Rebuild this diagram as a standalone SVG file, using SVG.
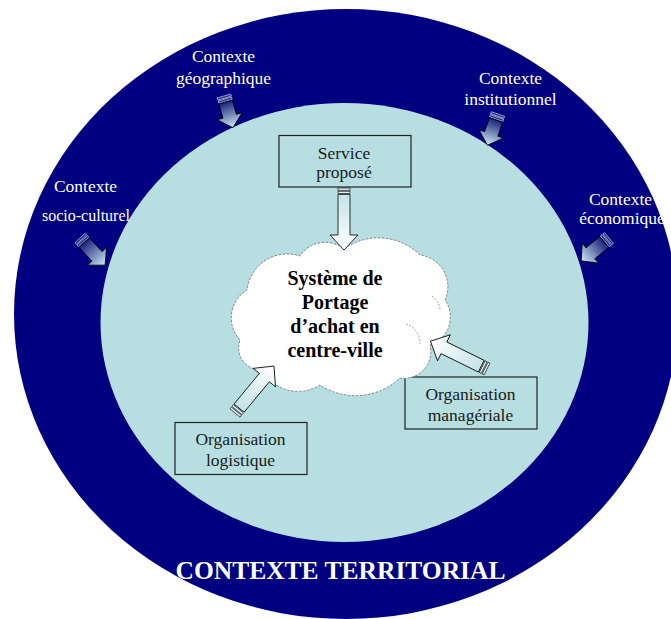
<svg xmlns="http://www.w3.org/2000/svg" width="671" height="619" viewBox="0 0 671 619">
<defs>
<style>
.lbl{font-family:"Liberation Serif","Times New Roman",serif;font-size:17.5px;fill:#ffffff;text-anchor:middle}
.box{fill:none;stroke:#222;stroke-width:1.2}
.btxt{font-family:"Liberation Serif","Times New Roman",serif;font-size:17.5px;fill:#1a1a1a;text-anchor:middle}
.ctxt{font-family:"Liberation Serif","Times New Roman",serif;font-size:20px;font-weight:bold;fill:#000;text-anchor:middle}
.title{font-family:"Liberation Serif","Times New Roman",serif;font-size:25.5px;font-weight:bold;fill:#ffffff;text-anchor:middle}
.ca{fill:url(#gCtx);stroke:#000;stroke-width:0.8}
.cb{fill:#27318a;stroke:#d8dcee;stroke-width:0.6}
.ia{fill:url(#gIn);stroke:#000;stroke-width:0.8}
.ib{fill:#e4f2f4;stroke:#000;stroke-width:0.6}
</style>
<linearGradient id="gCtx" x1="0" y1="0" x2="1" y2="0">
<stop offset="0" stop-color="#1c2580"/>
<stop offset="1" stop-color="#cdeaef"/>
</linearGradient>
<linearGradient id="gIn" x1="0" y1="0" x2="1" y2="0">
<stop offset="0" stop-color="#c4e3e8"/>
<stop offset="1" stop-color="#ffffff"/>
</linearGradient>
</defs>

<g id="territorial">
<ellipse cx="346" cy="314" rx="332" ry="305" fill="#000080"/>
<text class="title" x="340.5" y="579">CONTEXTE TERRITORIAL</text>
</g>
<g id="inner">
<ellipse cx="344.5" cy="322.5" rx="244" ry="219.5" fill="#b7dfe2"/>
</g>

<g id="ctx-geo"><text class="lbl" x="223.5" y="62">Contexte</text><text class="lbl" x="223.5" y="83.5">géographique</text></g>
<g id="ctx-inst"><text class="lbl" x="510.5" y="84">Contexte</text><text class="lbl" x="510.5" y="104.5">institutionnel</text></g>
<g id="ctx-socio"><text class="lbl" x="85.5" y="191.5">Contexte</text><text class="lbl" x="86" y="220.5" style="font-size:16px">socio-culturel</text></g>
<g id="ctx-eco"><text class="lbl" x="620.5" y="204.5">Contexte</text><text class="lbl" x="622" y="223.5">économique</text></g>

<g id="service"><rect class="box" x="279" y="135.5" width="132" height="51.5"/><text class="btxt" x="344" y="158.5">Service</text><text class="btxt" x="344" y="178">proposé</text></g>
<g id="logistique"><rect class="box" x="175" y="422.5" width="132" height="52"/><text class="btxt" x="240.5" y="445">Organisation</text><text class="btxt" x="240.5" y="465.5">logistique</text></g>
<g id="manageriale"><rect class="box" x="405" y="377" width="132" height="52"/><text class="btxt" x="470.5" y="400">Organisation</text><text class="btxt" x="470.5" y="420.5">managériale</text></g>

<g id="systeme">
<path d="M240,340 A32.5,32.5 0 0 1 247,290 A40.6,40.6 0 0 1 300,256 A29.9,29.9 0 0 1 344,249 A58.9,58.9 0 0 1 420,255 A32,32 0 0 1 445,300 A29.4,29.4 0 0 1 430,345 A26.7,26.7 0 0 1 400,378 A64.6,64.6 0 0 1 320,385 A41,41 0 0 1 262,370 A22.3,22.3 0 0 1 240,340 Z" fill="#ffffff" stroke="#777" stroke-width="0.9" stroke-dasharray="2.5 1.5"/>
<path d="M406,324 A20,20 0 0 1 420,344 M432,296 A18,18 0 0 1 440,310" fill="none" stroke="#888" stroke-width="0.8" stroke-dasharray="2 1.5"/>
<text class="ctxt" x="335" y="285">Système de</text>
<text class="ctxt" x="335" y="309">Portage</text>
<text class="ctxt" x="335" y="333">d’achat en</text>
<text class="ctxt" x="335" y="357">centre-ville</text>
</g>

<g id="connectors">
<g transform="translate(224,96) rotate(74.3)"><rect class="cb" x="0" y="-7" width="2.2" height="14"/><rect class="cb" x="3.2" y="-7" width="2.2" height="14"/><polygon class="ca" points="6.4,-7 21,-7 21,-13 33,0 21,13 21,7 6.4,7"/></g>
<g transform="translate(498,114) rotate(108.7)"><rect class="cb" x="0" y="-7" width="2.2" height="14"/><rect class="cb" x="3.2" y="-7" width="2.2" height="14"/><polygon class="ca" points="6.4,-7 21,-7 21,-13 33,0 21,13 21,7 6.4,7"/></g>
<g transform="translate(80,238) rotate(47.2)"><rect class="cb" x="0" y="-7" width="2.2" height="14"/><rect class="cb" x="3.2" y="-7" width="2.2" height="14"/><polygon class="ca" points="6.4,-7 25,-7 25,-13 37,0 25,13 25,7 6.4,7"/></g>
<g transform="translate(609,238) rotate(140.6)"><rect class="cb" x="0" y="-7" width="2.2" height="14"/><rect class="cb" x="3.2" y="-7" width="2.2" height="14"/><polygon class="ca" points="6.4,-7 24,-7 24,-13 36,0 24,13 24,7 6.4,7"/></g>
<g transform="translate(344,188) rotate(90)"><rect class="ib" x="0" y="-6" width="2.2" height="12"/><rect class="ib" x="3.2" y="-6" width="2.2" height="12"/><polygon class="ia" points="6.4,-6 47,-6 47,-14 62,0 47,14 47,6 6.4,6"/></g>
<g transform="translate(235,413) rotate(-50.3)"><rect class="ib" x="0" y="-6.5" width="2.2" height="13"/><rect class="ib" x="3.2" y="-6.5" width="2.2" height="13"/><polygon class="ia" points="6.4,-6.5 46,-6.5 46,-14.5 61,0 46,14.5 46,6.5 6.4,6.5"/></g>
<g transform="translate(487,369) rotate(-153.8)"><rect class="ib" x="0" y="-6.5" width="2.2" height="13"/><rect class="ib" x="3.2" y="-6.5" width="2.2" height="13"/><polygon class="ia" points="6.4,-6.5 48,-6.5 48,-14.5 63,0 48,14.5 48,6.5 6.4,6.5"/></g>
</g>
</svg>
